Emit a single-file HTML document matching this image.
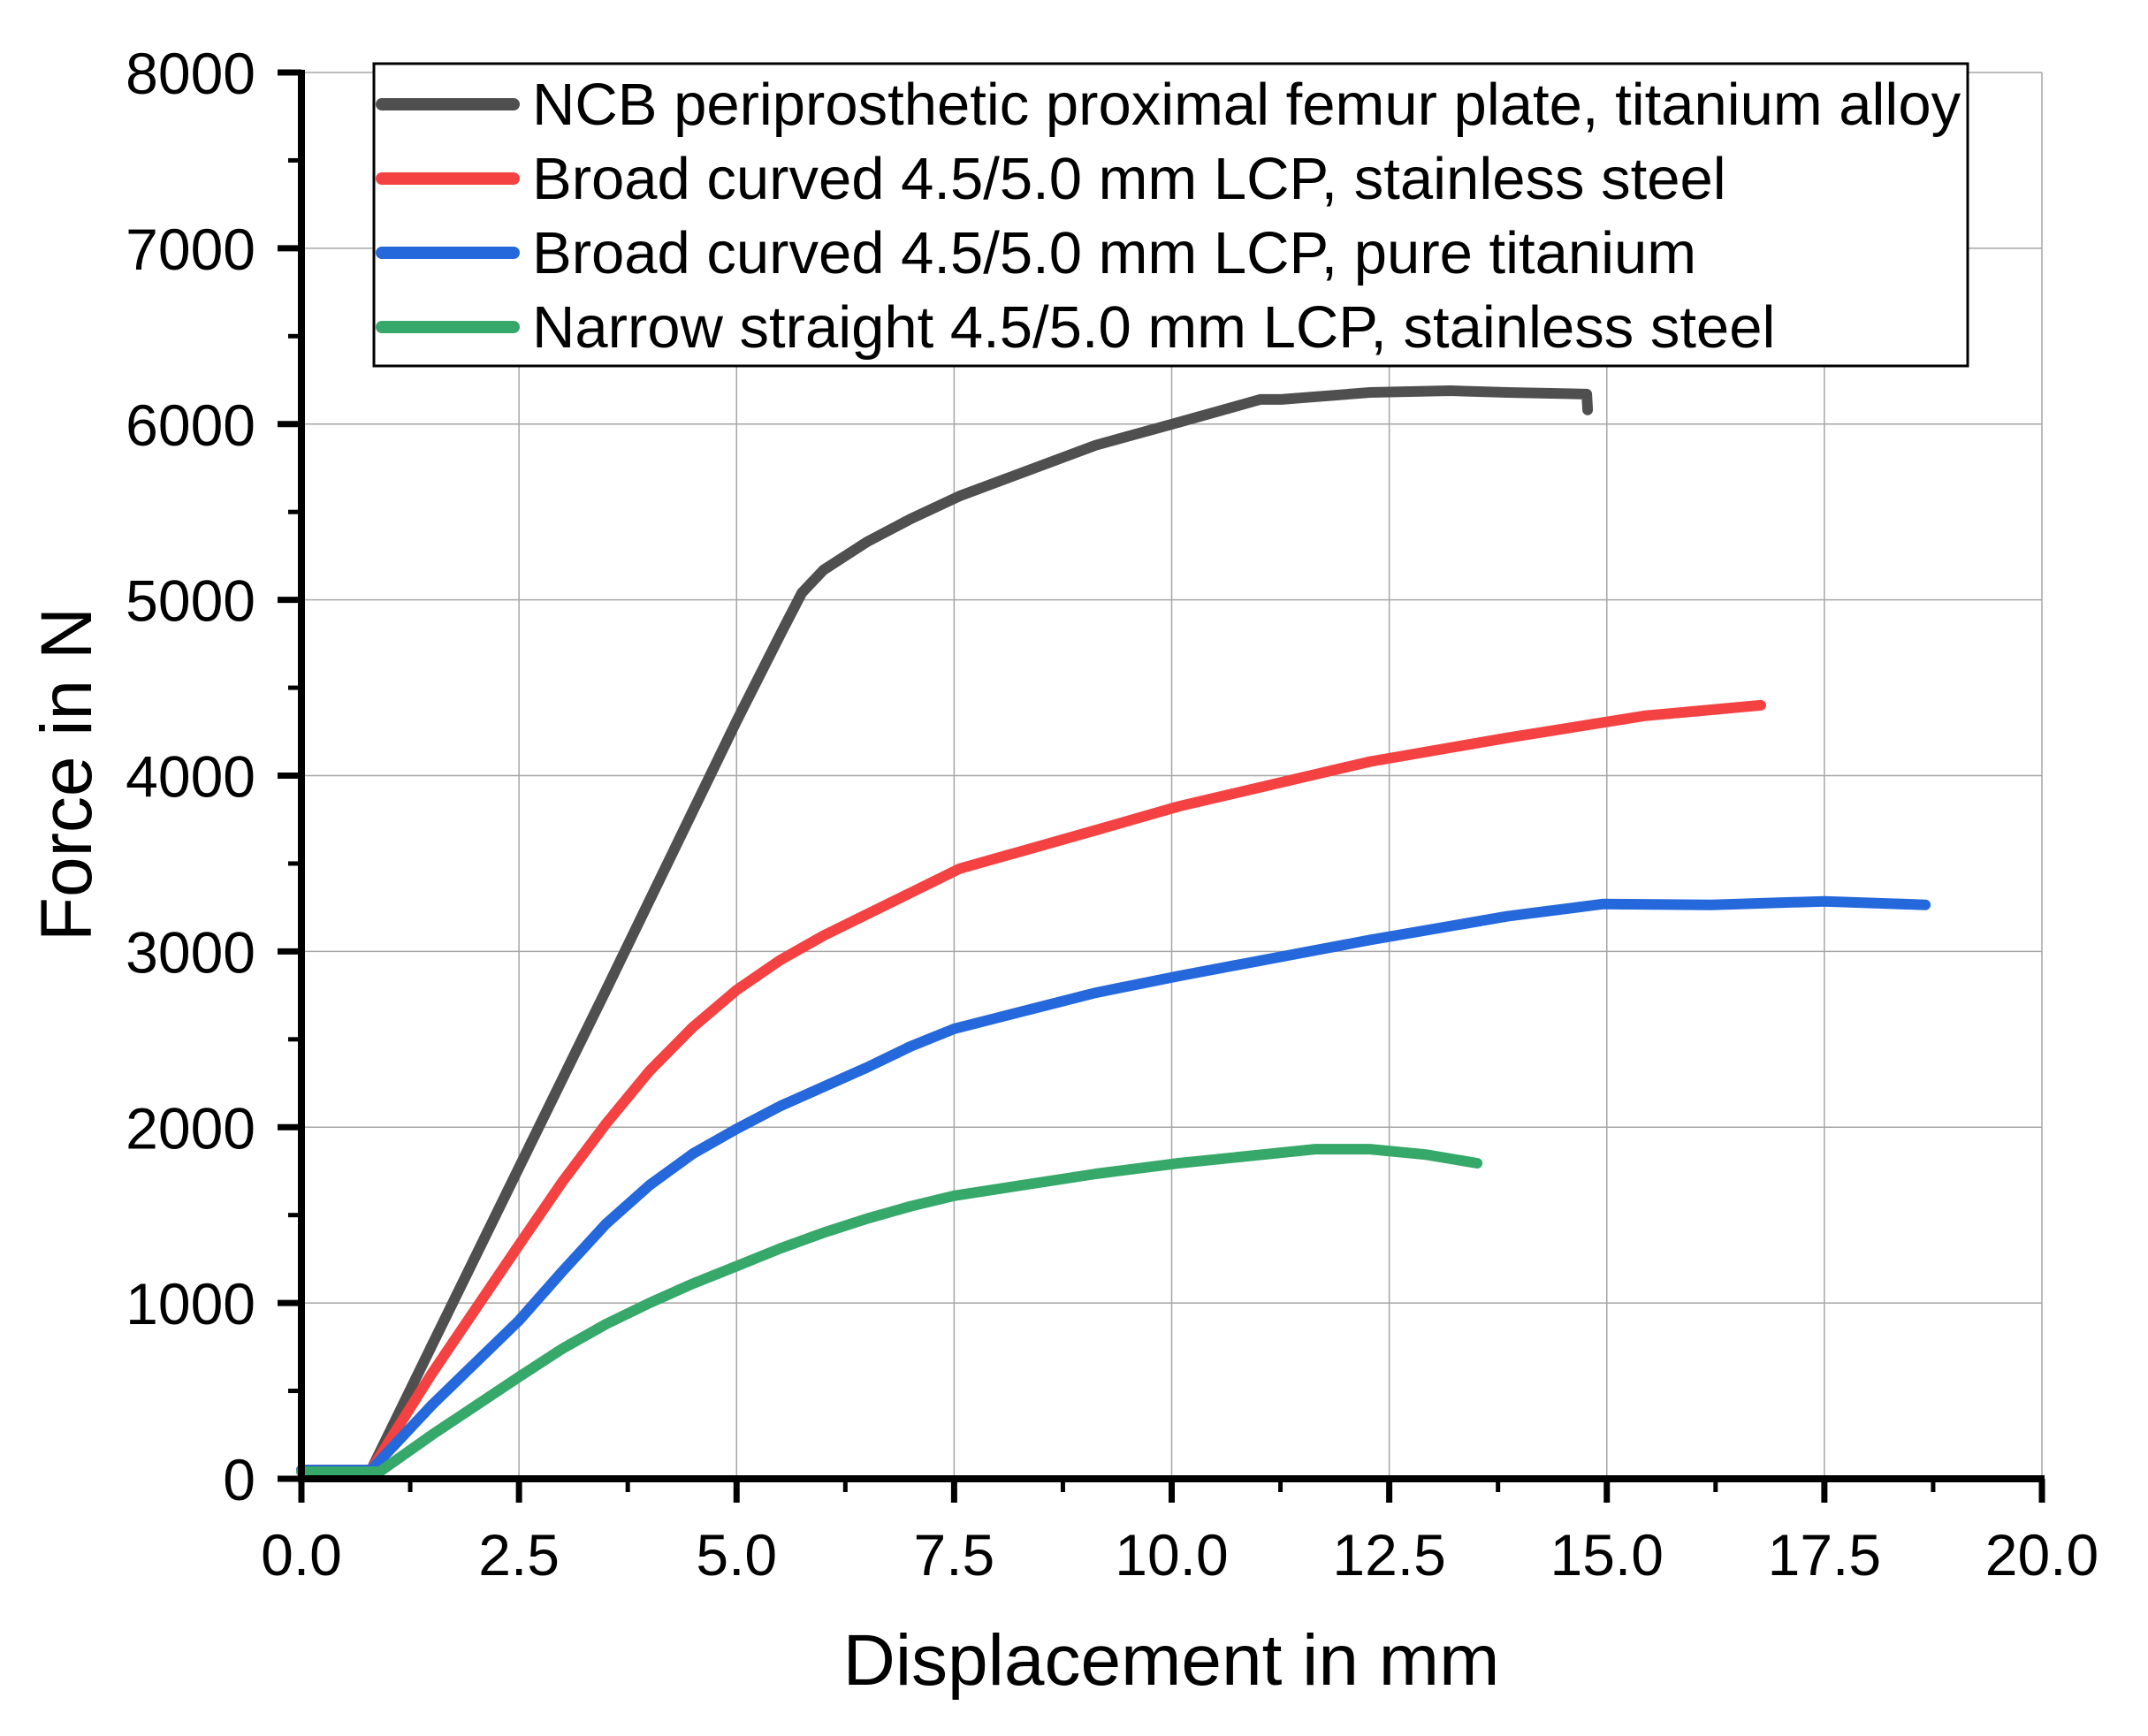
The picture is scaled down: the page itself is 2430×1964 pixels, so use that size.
<!DOCTYPE html>
<html><head><meta charset="utf-8"><style>
html,body{margin:0;padding:0;background:#fff;}
svg{display:block;font-family:"Liberation Sans",Arial,sans-serif;}
</style></head>
<body>
<svg id="chart" width="2430" height="1964" viewBox="0 0 2430 1964" xmlns="http://www.w3.org/2000/svg">
<rect width="2430" height="1964" fill="#fff"/>
<g id="grid"></g>
<g id="series"></g>
<g id="axes"></g>
<text x="1325" y="1906" font-size="82" text-anchor="middle">Displacement in mm</text>
<text x="0" y="0" font-size="82" text-anchor="middle" transform="translate(103,876) rotate(-90)">Force in N</text>
<g id="legend"></g>
</svg>
<script>
const xTicks=[0,2.5,5,7.5,10,12.5,15,17.5,20];
const xTickLabels=["0.0","2.5","5.0","7.5","10.0","12.5","15.0","17.5","20.0"];
const yTicks=[0,1000,2000,3000,4000,5000,6000,7000,8000];
const yTickLabels=["0","1000","2000","3000","4000","5000","6000","7000","8000"];
const seriesNames=["NCB periprosthetic proximal femur plate, titanium alloy","Broad curved 4.5/5.0 mm LCP, stainless steel","Broad curved 4.5/5.0 mm LCP, pure titanium","Narrow straight 4.5/5.0 mm LCP, stainless steel"];
const seriesColors=["#4f4f4f","#f44242","#2468dc","#36a86a"];
const blackX=[0,0.8,1.5,2.5,3.5,4.5,5.0,5.5,5.75,6.0,6.5,7.0,7.56,9.13,10.08,11.02,11.26,12.28,13.2,13.86,14.77,14.78];
const blackY=[50,50,760,1770,2780,3800,4310,4800,5040,5170,5330,5460,5590,5880,6010,6140,6140,6180,6190,6180,6170,6080];
const redX=[0,0.8,1.5,2.5,3.0,3.5,4.0,4.5,5.0,5.5,6.0,7.56,9.13,10.08,12.28,13.86,15.43,16.77];
const redY=[50,50,600,1330,1690,2020,2320,2570,2780,2950,3090,3470,3690,3825,4080,4215,4340,4400];
const blueX=[0,0.8,1.5,2.5,3.0,3.5,4.0,4.5,5.0,5.5,6.0,6.5,7.0,7.5,9.13,10.08,12.28,13.86,14.96,16.2,17.5,18.66];
const blueY=[50,50,420,900,1180,1450,1670,1850,1990,2120,2230,2340,2460,2560,2765,2860,3065,3200,3270,3265,3285,3265];
const greenX=[0,0.9,1.5,2.5,3.0,3.5,4.0,4.5,5.0,5.5,6.0,6.5,7.0,7.5,9.13,10.08,11.65,12.28,12.91,13.51];
const greenY=[40,40,250,580,740,880,1000,1110,1210,1310,1400,1480,1550,1610,1735,1795,1875,1875,1845,1795];
const seriesX=[blackX,redX,blueX,greenX];
const seriesY=[blackY,redY,blueY,greenY];

const NS="http://www.w3.org/2000/svg";
const X0=341,X1=2310,Y0=1673,Y1=82;
const xs=v=>X0+(v/20)*(X1-X0);
const ys=v=>Y0-(v/8000)*(Y0-Y1);
function mk(tag,attrs,parent){const e=document.createElementNS(NS,tag);for(const k in attrs)e.setAttribute(k,attrs[k]);parent.appendChild(e);return e;}
const grid=document.getElementById('grid'),axes=document.getElementById('axes'),ser=document.getElementById('series'),leg=document.getElementById('legend');
xTicks.forEach((t,i)=>{
  if(i>0){const g=mk('line',{x1:xs(t),x2:xs(t),y1:Y0,y2:Y1,stroke:'#a6a6a6','stroke-width':1.5},grid);
  
  }
  const tk=mk('line',{x1:xs(t),x2:xs(t),y1:Y0,y2:Y0+27,stroke:'#000','stroke-width':7},axes);
  
  
  if(i<xTicks.length-1){const m=mk('line',{x1:xs(t+1.25),x2:xs(t+1.25),y1:Y0,y2:Y0+15,stroke:'#000','stroke-width':5},axes);
  
  }
  const lb=mk('text',{x:xs(t),y:1782,'font-size':66,'text-anchor':'middle'},axes);lb.textContent=xTickLabels[i];
  
  
});
yTicks.forEach((t,i)=>{
  if(i>0){const g=mk('line',{x1:X0,x2:X1,y1:ys(t),y2:ys(t),stroke:'#a6a6a6','stroke-width':1.5},grid);
  
  }
  const tk=mk('line',{x1:X0-27,x2:X0,y1:ys(t),y2:ys(t),stroke:'#000','stroke-width':7},axes);
  
  
  if(i<yTicks.length-1){const m=mk('line',{x1:X0-15,x2:X0,y1:ys(t+500),y2:ys(t+500),stroke:'#000','stroke-width':5},axes);
  
  }
  const lb=mk('text',{x:289,y:ys(t)+24,'font-size':66,'text-anchor':'end'},axes);lb.textContent=yTickLabels[i];
  
  
});
const ax=mk('path',{d:`M${X0},${Y1-3} V${Y0} H${X1+3}`,stroke:'#000','stroke-width':8,fill:'none'},axes);


seriesX.forEach((xa,s)=>{
  const d=xa.map((v,i)=>(i?'L':'M')+xs(v).toFixed(1)+','+ys(seriesY[s][i]).toFixed(1)).join(' ');
  const p=mk('path',{d:d,stroke:seriesColors[s],'stroke-width':12,fill:'none','stroke-linejoin':'round','stroke-linecap':'round'},ser);
  
  
});
const box=mk('rect',{x:423,y:72,width:1803,height:342,fill:'#fff',stroke:'#000','stroke-width':3},leg);


const rowsY=[118,202,286,370];
seriesNames.forEach((n,i)=>{
  const l=mk('line',{x1:432,x2:581,y1:rowsY[i],y2:rowsY[i],stroke:seriesColors[i],'stroke-width':14,'stroke-linecap':'round'},leg);
  
  
  const t=mk('text',{x:602,y:rowsY[i]+23,'font-size':67},leg);t.textContent=n;
  
  
});
</script>
</body></html>
